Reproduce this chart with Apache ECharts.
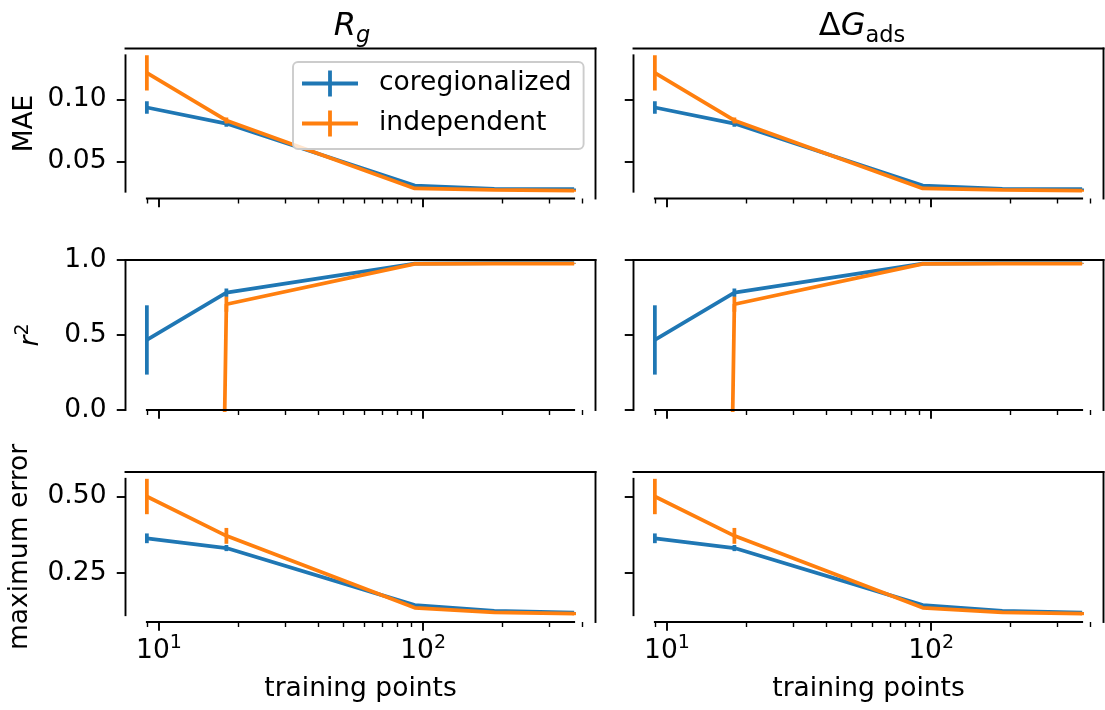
<!DOCTYPE html>
<html><head><meta charset="utf-8">
<script src="https://cdn.jsdelivr.net/npm/echarts@6/dist/echarts.min.js"></script>
<style>html,body{margin:0;padding:0;background:#fff}#c{width:1105px;height:710px}</style>
</head><body><div id="c"></div>
<script>
// ---------------- data ----------------
const trainingPoints = [9, 18, 93, 186, 373];
const maeCoreg      = [0.0935, 0.0805, 0.0304, 0.0277, 0.0274];
const maeCoregErr   = [0.0050, 0.0025, 0.0008, 0.0006, 0.0006];
const maeIndep      = [0.1215, 0.0830, 0.0280, 0.0268, 0.0262];
const maeIndepErr   = [0.0142, 0.0025, 0.0008, 0.0008, 0.0008];
const r2Coreg       = [0.467, 0.782, 0.976, 0.979, 0.979];
const r2CoregErr    = [0.231, 0.028, 0.004, 0.003, 0.002];
const r2Indep       = [-33, 0.705, 0.974, 0.976, 0.976];
const r2IndepErr    = [0, 0.05, 0.004, 0.003, 0.002];
const maxCoreg      = [0.363, 0.331, 0.144, 0.125, 0.119];
const maxCoregErr   = [0.016, 0.010, 0.003, 0.002, 0.002];
const maxIndep      = [0.500, 0.371, 0.135, 0.120, 0.116];
const maxIndepErr   = [0.058, 0.026, 0.003, 0.002, 0.005];

const seriesNames  = ['coregionalized', 'independent'];
const columnTitles = ['{i|R}{sub|g}', '{n|Δ}{i|G}{sub|ads}'];
const rowNames     = ['MAE', '{i|r}{sup|2}', 'maximum error'];
const yTicks       = [[0.05, 0.10], [0.0, 0.5, 1.0], [0.25, 0.50]];
const yDecimals    = [2, 1, 2];
const yFixed       = [null, [0, 1], null];
const xMajorTicks  = [10, 100];
const xMinorTicks  = [9, 20, 30, 40, 50, 60, 70, 80, 90, 200, 300, 400];
const xLabel       = 'training points';

// ---------------- style ----------------
const FONT = 'DejaVu Sans';
const FS = 26.5, TITLE_FS = 32;
const LW = 3.75, SPINE_W = 1.9;
const COLORS = ['#1f77b4', '#ff7f0e'];
const gridLeft = [125.5, 633.5], gridWidth = 470;
const gridTop = [48.5, 260, 472], gridHeight = 150;
const nameGaps = [87, 81, 92];
const titleCenters = [352, 862];

const rows = [
  [[maeCoreg, maeCoregErr], [maeIndep, maeIndepErr]],
  [[r2Coreg, r2CoregErr], [r2Indep, r2IndepErr]],
  [[maxCoreg, maxCoregErr], [maxIndep, maxIndepErr]]
];

function extentOf(r) {
  let lo = Infinity, hi = -Infinity;
  rows[r].forEach(([v, e]) => v.forEach((y, i) => { lo = Math.min(lo, y - e[i]); hi = Math.max(hi, y + e[i]); }));
  return [lo, hi];
}
const lx0 = Math.log10(Math.min(...trainingPoints)), lx1 = Math.log10(Math.max(...trainingPoints));
const xMin = Math.pow(10, lx0 - 0.05 * (lx1 - lx0));
const xMax = Math.pow(10, lx1 + 0.05 * (lx1 - lx0));

const grids = [], xAxes = [], yAxes = [], series = [];
const supRich = {
  b: { fontSize: FS, fontFamily: FONT, color: '#000', lineHeight: 31, verticalAlign: 'bottom' },
  sup: { fontSize: 19, fontFamily: FONT, color: '#000', lineHeight: 19, verticalAlign: 'top' }
};

for (let r = 0; r < 3; r++) {
  const ext = extentOf(r);
  let yMin, yMax, sLo, sHi;
  if (yFixed[r]) { yMin = yFixed[r][0]; yMax = yFixed[r][1]; sLo = yMin; sHi = yMax; }
  else {
    const pad = 0.05 * (ext[1] - ext[0]);
    yMin = ext[0] - pad; yMax = ext[1] + pad; sLo = ext[0]; sHi = ext[1];
  }
  for (let c = 0; c < 2; c++) {
    const g = grids.length;
    grids.push({ left: gridLeft[c], top: gridTop[r], width: gridWidth, height: gridHeight, containLabel: false, outerBoundsMode: 'none' });
    const bottomRow = r === 2;
    const xa = xAxes.length;
    xAxes.push({
      type: 'log', gridIndex: g, min: xMin, max: xMax, position: 'bottom',
      axisLine: { show: false }, splitLine: { show: false },
      axisTick: { show: true, customValues: xMajorTicks, length: 8.75, lineStyle: { color: '#000', width: SPINE_W } },
      axisLabel: {
        show: bottomRow, customValues: xMajorTicks, margin: 12,
        formatter: v => '{b|10}{sup|' + Math.round(Math.log10(v)) + '}', rich: supRich
      },
      name: bottomRow ? xLabel : '', nameLocation: 'middle', nameGap: 54,
      nameTextStyle: { fontSize: FS, fontFamily: FONT, color: '#000' }
    });
    xAxes.push({
      type: 'log', gridIndex: g, min: xMin, max: xMax, position: 'bottom',
      axisLine: { show: false }, splitLine: { show: false },
      axisTick: { show: true, customValues: xMinorTicks, length: 5, lineStyle: { color: '#000', width: 1.4 } },
      axisLabel: { show: false }
    });
    const ya = yAxes.length;
    yAxes.push({
      type: 'value', gridIndex: g, min: yMin, max: yMax, position: 'left',
      axisLine: { show: false }, splitLine: { show: false },
      axisTick: { show: true, customValues: yTicks[r], length: 8.75, lineStyle: { color: '#000', width: SPINE_W } },
      axisLabel: {
        show: c === 0, customValues: yTicks[r], margin: 19,
        formatter: v => v.toFixed(yDecimals[r]), fontSize: FS, fontFamily: FONT, color: '#000'
      },
      name: c === 0 ? rowNames[r] : '', nameLocation: 'middle', nameRotate: 90, nameGap: nameGaps[r],
      nameTextStyle: {
        fontSize: FS, fontFamily: FONT, color: '#000',
        rich: {
          i: { fontSize: FS, fontFamily: FONT, fontStyle: 'italic', color: '#000', lineHeight: 31, verticalAlign: 'bottom' },
          sup: { fontSize: 19, fontFamily: FONT, color: '#000', lineHeight: 19, verticalAlign: 'top' }
        }
      }
    });
    // lines + error bars
    rows[r].forEach(([vals, errs], k) => {
      series.push({
        type: 'line', name: seriesNames[k], xAxisIndex: xa, yAxisIndex: ya,
        data: trainingPoints.map((x, i) => [x, vals[i]]),
        showSymbol: false, symbol: 'none', clip: true, animation: false, silent: true,
        lineStyle: { width: LW, color: COLORS[k] }, itemStyle: { color: COLORS[k] }, z: 2 + k
      });
      series.push({
        type: 'custom', name: seriesNames[k], xAxisIndex: xa, yAxisIndex: ya, clip: true, animation: false, silent: true, z: 2 + k,
        data: trainingPoints.map((x, i) => [x, vals[i], errs[i]]),
        encode: { x: 0, y: 1 },
        itemStyle: { color: COLORS[k] },
        renderItem: (params, api) => {
          const x = api.value(0), v = api.value(1), e = api.value(2);
          const p1 = api.coord([x, v - e]), p2 = api.coord([x, v + e]);
          return { type: 'line', shape: { x1: p1[0], y1: p1[1], x2: p2[0], y2: p2[1] }, style: { stroke: COLORS[k], lineWidth: LW } };
        }
      });
    });
    // spines: trimmed left & bottom, full top & right
    const xLo = Math.min(...trainingPoints), xHi = Math.max(...trainingPoints);
    series.push({
      type: 'custom', xAxisIndex: xa, yAxisIndex: ya, clip: false, silent: true, animation: false, z: 10,
      data: [[xLo, sLo]], encode: { x: 0, y: 1 },
      renderItem: (params, api) => {
        const seg = (a, b) => ({ type: 'line', shape: { x1: a[0], y1: a[1], x2: b[0], y2: b[1] }, style: { stroke: '#000', lineWidth: SPINE_W, lineCap: 'square' } });
        const p = (x, y) => api.coord([x, y]);
        return { type: 'group', children: [
          seg(p(xMin, sLo), p(xMin, sHi)),
          seg(p(xLo, yMin), p(xHi, yMin)),
          seg(p(xMin, yMax), p(xMax, yMax)),
          seg(p(xMax, yMax), p(xMax, yMin))
        ] };
      }
    });
  }
}

const titleRich = {
  i: { fontSize: TITLE_FS, fontFamily: FONT, fontStyle: 'italic', fill: '#000', lineHeight: 42, verticalAlign: 'middle' },
  n: { fontSize: TITLE_FS, fontFamily: FONT, fill: '#000', lineHeight: 42, verticalAlign: 'middle' },
  sub: { fontSize: 22.5, fontFamily: FONT, fill: '#000', lineHeight: 22, verticalAlign: 'bottom' }
};
const titleRichG = JSON.parse(JSON.stringify(titleRich));
titleRich.sub.fontStyle = 'italic';

const chart = echarts.init(document.getElementById('c'), null, { renderer: 'canvas' });
chart.setOption({
  animation: false,
  backgroundColor: '#fff',
  grid: grids, xAxis: xAxes, yAxis: yAxes, series: series,
  legend: {
    show: true, left: 293, top: 62, orient: 'vertical',
    data: seriesNames.map((n, k) => ({ name: n, itemStyle: { color: COLORS[k] } })),
    icon: 'path://M0,11.1L56,11.1L56,14.9L0,14.9Z M26.1,0L29.9,0L29.9,26L26.1,26Z',
    itemWidth: 56, itemHeight: 26, itemGap: 13,
    padding: [8, 12, 12, 9],
    backgroundColor: 'rgba(255,255,255,0.8)', borderColor: '#cccccc', borderWidth: 1.9, borderRadius: 5,
    selectedMode: false,
    textStyle: { fontSize: FS, fontFamily: FONT, color: '#000', padding: [0, 0, 0, 16], lineHeight: 26 }
  },
  graphic: [
    { type: 'text', x: titleCenters[0], y: 27, silent: true,
      style: { text: columnTitles[0], rich: titleRich, align: 'center', verticalAlign: 'middle', fontSize: TITLE_FS, fontFamily: FONT } },
    { type: 'text', x: titleCenters[1], y: 27, silent: true,
      style: { text: columnTitles[1], rich: titleRichG, align: 'center', verticalAlign: 'middle', fontSize: TITLE_FS, fontFamily: FONT } }
  ]
});
</script></body></html>
